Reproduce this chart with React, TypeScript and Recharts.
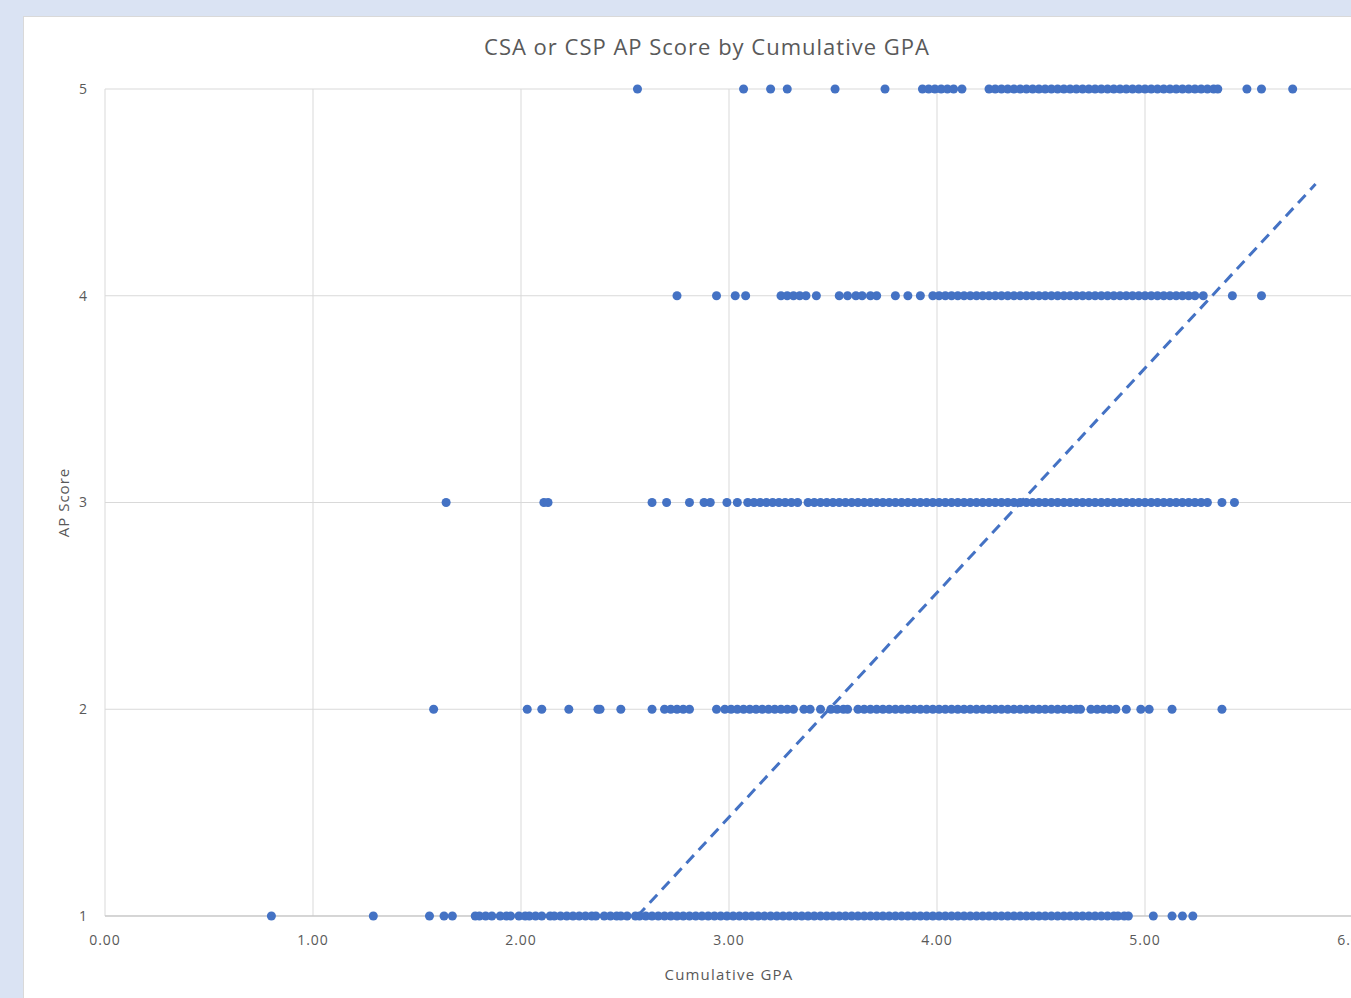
import * as React from 'react';
import {
	CartesianGrid,
	ReferenceLine,
	Scatter,
	ScatterChart,
	XAxis,
	YAxis,
	ZAxis,
} from 'recharts';

const BLUE = '#4472c4';
const GREY = '#595959';
const FONT = '"Open Sans", "Liberation Sans", sans-serif';

// GPA readings per AP score
const score1Gpa = [
	0.80, 1.29, 1.56, 1.63, 1.67, 1.78, 1.80, 1.83, 1.86, 1.90, 1.93, 1.95, 1.99, 2.02, 2.04,
	2.07, 2.10, 2.14, 2.16, 2.19, 2.22, 2.25, 2.28, 2.31, 2.34, 2.36, 2.40, 2.43, 2.46, 2.48,
	2.51, 2.55, 2.57, 2.60, 2.63, 2.66, 2.69, 2.72, 2.75, 2.78, 2.81, 2.84, 2.87, 2.90, 2.93,
	2.96, 2.99, 3.02, 3.05, 3.08, 3.11, 3.14, 3.17, 3.20, 3.23, 3.26, 3.29, 3.32, 3.35, 3.38,
	3.41, 3.44, 3.47, 3.50, 3.53, 3.56, 3.59, 3.62, 3.65, 3.68, 3.71, 3.74, 3.77, 3.80, 3.83,
	3.86, 3.89, 3.92, 3.95, 3.98, 4.01, 4.04, 4.07, 4.10, 4.13, 4.16, 4.19, 4.22, 4.25, 4.28,
	4.31, 4.34, 4.37, 4.40, 4.43, 4.46, 4.49, 4.52, 4.55, 4.58, 4.61, 4.64, 4.67, 4.70, 4.73,
	4.76, 4.79, 4.82, 4.85, 4.87, 4.90, 4.92, 5.04, 5.13, 5.18, 5.23,
];
const score2Gpa = [
	1.58, 2.03, 2.10, 2.23, 2.37, 2.38, 2.48, 2.63, 2.69, 2.72, 2.75, 2.78, 2.81, 2.94, 2.98,
	3.01, 3.04, 3.07, 3.10, 3.13, 3.16, 3.19, 3.22, 3.25, 3.28, 3.31, 3.36, 3.39, 3.44, 3.49,
	3.52, 3.55, 3.57, 3.62, 3.65, 3.68, 3.71, 3.74, 3.77, 3.80, 3.83, 3.86, 3.89, 3.92, 3.95,
	3.98, 4.01, 4.04, 4.07, 4.10, 4.13, 4.16, 4.19, 4.22, 4.25, 4.28, 4.31, 4.34, 4.37, 4.40,
	4.43, 4.46, 4.49, 4.52, 4.55, 4.58, 4.61, 4.64, 4.67, 4.69, 4.74, 4.77, 4.80, 4.83, 4.86,
	4.91, 4.98, 5.02, 5.13, 5.37,
];
const score3Gpa = [
	1.64, 2.11, 2.13, 2.63, 2.70, 2.81, 2.88, 2.91, 2.99, 3.04, 3.09, 3.12, 3.15, 3.18, 3.21,
	3.24, 3.27, 3.30, 3.33, 3.38, 3.41, 3.44, 3.47, 3.50, 3.53, 3.56, 3.59, 3.62, 3.65, 3.68,
	3.71, 3.74, 3.77, 3.80, 3.83, 3.86, 3.89, 3.92, 3.95, 3.98, 4.01, 4.04, 4.07, 4.10, 4.13,
	4.16, 4.19, 4.22, 4.25, 4.28, 4.31, 4.34, 4.37, 4.40, 4.43, 4.46, 4.49, 4.52, 4.55, 4.58,
	4.61, 4.64, 4.67, 4.70, 4.73, 4.76, 4.79, 4.82, 4.85, 4.88, 4.91, 4.94, 4.97, 5.00, 5.03,
	5.06, 5.09, 5.12, 5.15, 5.18, 5.21, 5.24, 5.27, 5.30, 5.37, 5.43,
];
const score4Gpa = [
	2.75, 2.94, 3.03, 3.08, 3.25, 3.28, 3.31, 3.34, 3.37, 3.42, 3.53, 3.57, 3.61, 3.64, 3.68,
	3.71, 3.80, 3.86, 3.92, 3.98, 4.01, 4.04, 4.07, 4.10, 4.13, 4.16, 4.19, 4.22, 4.25, 4.28,
	4.31, 4.34, 4.37, 4.40, 4.43, 4.46, 4.49, 4.52, 4.55, 4.58, 4.61, 4.64, 4.67, 4.70, 4.73,
	4.76, 4.79, 4.82, 4.85, 4.88, 4.91, 4.94, 4.97, 5.00, 5.03, 5.06, 5.09, 5.12, 5.15, 5.18,
	5.21, 5.24, 5.28, 5.42, 5.56,
];
const score5Gpa = [
	2.56, 3.07, 3.20, 3.28, 3.51, 3.75, 3.93, 3.96, 3.99, 4.02, 4.05, 4.08, 4.12, 4.25, 4.28,
	4.31, 4.34, 4.37, 4.40, 4.43, 4.46, 4.49, 4.52, 4.55, 4.58, 4.61, 4.64, 4.67, 4.70, 4.73,
	4.76, 4.79, 4.82, 4.85, 4.88, 4.91, 4.94, 4.97, 5.00, 5.03, 5.06, 5.09, 5.12, 5.15, 5.18,
	5.21, 5.24, 5.27, 5.30, 5.33, 5.35, 5.49, 5.56, 5.71,
];

const xTicks = [0, 1, 2, 3, 4, 5, 6];
const yTicks = [1, 2, 3, 4, 5];
// linear trendline endpoints (gpa, score)
const trendStart = {x: 2.56, y: 1};
const trendEnd = {x: 5.82, y: 4.54};

const byScore: [number, number[]][] = [
	[1, score1Gpa],
	[2, score2Gpa],
	[3, score3Gpa],
	[4, score4Gpa],
	[5, score5Gpa],
];
const points = byScore.flatMap(([score, gpas]) =>
	gpas.map((gpa) => ({gpa, score})));

const tickStyle = {fill: GREY, fontSize: 14, fontFamily: FONT, letterSpacing: 1};

function YLabel(props: any) {
	const {viewBox} = props;
	const cx = 63;
	const cy = viewBox.y + viewBox.height / 2;
	return (
		<text
			x={cx}
			y={cy}
			transform={`rotate(-90 ${cx} ${cy})`}
			textAnchor="middle"
			dominantBaseline="central"
			fill={GREY}
			fontSize={15}
			letterSpacing={1}
			fontFamily={FONT}
		>
			AP Score
		</text>
	);
}

export default function App() {
	return (
		<div style={{position: 'fixed', left: 0, top: 0, width: 1351, height: 998, background: '#dae3f3', overflow: 'hidden'}}>
			<div style={{position: 'absolute', left: 23, top: 16, width: 1400, height: 1000, background: '#fff', border: '1px solid #d9d9d9'}}/>
			<div style={{position: 'absolute', left: 0, width: 1414, textAlign: 'center', top: 31, fontFamily: FONT, fontSize: 22, letterSpacing: 1, color: GREY}}>
				CSA or CSP AP Score by Cumulative GPA
			</div>
			<div style={{position: 'absolute', left: 0, top: 0}}>
				<ScatterChart
					width={1400}
					height={998}
					margin={{top: 89, right: 47, bottom: 16, left: 0}}
				>
					<CartesianGrid stroke="#d9d9d9" />
					<XAxis
						type="number"
						dataKey="gpa"
						domain={[0, 6]}
						ticks={xTicks}
						tickFormatter={(v: number) => v.toFixed(2)}
						tick={tickStyle}
						tickLine={false}
						tickSize={6}
						tickMargin={13}
						axisLine={{stroke: '#bfbfbf'}}
						height={66}
						label={{value: 'Cumulative GPA', position: 'insideBottom', offset: 2, fill: GREY, fontSize: 15, letterSpacing: 1.2, fontFamily: FONT}}
					/>
					<YAxis
						type="number"
						dataKey="score"
						domain={[1, 5]}
						ticks={yTicks}
						tick={tickStyle}
						tickLine={false}
						tickSize={6}
						tickMargin={11}
						axisLine={false}
						width={105}
						label={{content: YLabel}}
					/>
					<ZAxis range={[64, 64]} />
					<Scatter
						data={points}
						fill={BLUE}
						isAnimationActive={false}
					/>
					<ReferenceLine
						segment={[trendStart, trendEnd]}
						stroke={BLUE}
						strokeWidth={3}
						strokeDasharray="11 7"
					/>
				</ScatterChart>
			</div>
		</div>
	);
}
